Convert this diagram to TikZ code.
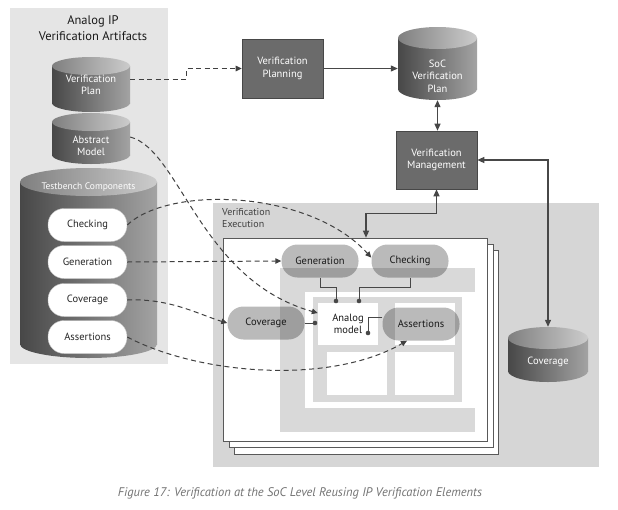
\documentclass[tikz,border=0pt]{standalone}
\usepackage{fontspec}
\setmainfont{PT Sans}
\usetikzlibrary{arrows.meta,calc}
\newcommand\mycyl[5]{%
  \shade[left color=black!72, right color=black!36] (#1-#4,#2+#5) rectangle (#1+#4,#3-#5);
  \shade[left color=black!72, right color=black!36] (#1,#3-#5) ellipse [x radius=#4, y radius=#5];
  \shade[left color=black!50, right color=black!20] (#1,#2+#5) ellipse [x radius=#4, y radius=#5];
}
\begin{document}
\begin{tikzpicture}[x=1pt,y=-1pt,
  every node/.style={font=\fontsize{10.5}{12.5}\selectfont, align=center, inner sep=0pt},
  darkbox/.style={draw=black!72, fill=black!58, text=white, line width=0.6pt},
  cyltext/.style={text=white},
  wpill/.style={draw=black!25, fill=white, rounded corners=16pt, minimum width=79pt, minimum height=33pt, text=black!85},
  gpill/.style={fill=black, fill opacity=0.27, text opacity=1, rounded corners=16pt, minimum width=77pt, minimum height=33pt, text=black!90},
  pagebox/.style={draw=black!65, fill=white, line width=0.6pt},
  band/.style={fill=black!15},
  cell/.style={fill=white},
  dashconn/.style={draw=black!75, line width=1pt, dash pattern=on 5pt off 3.5pt, -{Triangle[length=6pt,width=5.5pt]}},
  solidconn/.style={draw=black!72, line width=1.2pt},
  dbl/.style={{Triangle[length=7pt,width=6pt]}-{Triangle[length=7pt,width=6pt]}},
  sgl/.style={-{Triangle[length=7pt,width=6pt]}},
  thinconn/.style={draw=black!72, line width=0.8pt},
  dot/.style={fill=black!72}
]
\useasboundingbox (0,0) rectangle (618,509);
\fill[white] (0,0) rectangle (618,509);
% panels
\fill[black!10] (10,8) rectangle (168,364);
\fill[black!16] (213,203) rectangle (599,467);
% left title
\node[font=\fontsize{12.5}{15.5}\selectfont, text=black!90] (title) at (93,28) {Analog IP\\Verification Artifacts};
% left cylinders
\mycyl{91}{57}{112}{39}{9}
\node[cyltext, minimum width=78pt, minimum height=55pt] (vplan) at (91,85) {Verification\\Plan};
\mycyl{91}{113}{164}{39}{9}
\node[cyltext, minimum width=78pt, minimum height=38pt] (amodel) at (91,146) {Abstract\\Model};
\mycyl{88.5}{168}{358}{68.5}{14}
\node[minimum width=137pt, minimum height=190pt] (tb) at (88.5,263) {};
\node[cyltext, font=\fontsize{9.5}{12}\selectfont] (tblabel) at (88.5,187) {Testbench Components};
\node[wpill] (wchk) at (87.5,225) {Checking};
\node[wpill] (wgen) at (87.5,262) {Generation};
\node[wpill] (wcov) at (87.5,300) {Coverage};
\node[wpill] (wasr) at (87.5,337) {Assertions};
% top boxes
\node[darkbox, minimum width=81pt, minimum height=59pt] (vplanning) at (282.5,68.5) {Verification\\Planning};
\mycyl{437.5}{27}{100}{39.5}{11}
\node[cyltext, minimum width=79pt, minimum height=48pt] (soc) at (437.5,76) {SoC\\Verification\\Plan};
\node[darkbox, minimum width=81pt, minimum height=58pt] (vmgmt) at (436.5,160) {Verification\\Management};
% coverage cylinder
\mycyl{548}{327}{382}{40}{11}
\node[cyltext, minimum width=80pt, minimum height=70pt] (cvg) at (548,362) {Coverage};
% execution
\node[anchor=north west, align=left, text=black!75, font=\fontsize{10}{12.5}\selectfont] (vexec) at (222,208) {Verification\\Execution};
\node[pagebox, minimum width=264pt, minimum height=204pt] (page3) at (366,352) {};
\node[pagebox, minimum width=264pt, minimum height=203pt] (page2) at (361,345.5) {};
\node[pagebox, minimum width=264pt, minimum height=203pt] (page1) at (355,339.5) {};
\fill[band] (280,268) rectangle (475,292);
\fill[band] (280,268) rectangle (305,432);
\fill[band] (280,408) rectangle (475,432);
\fill[band] (313,297) rectangle (462,402);
\node[cell, minimum width=60pt, minimum height=42pt, text=black!90] (acell) at (348,324) {Analog\\model};
\fill[cell] (395,303) rectangle (455,345);
\fill[cell] (327,352) rectangle (387,395);
\fill[cell] (395,352) rectangle (454,395);
\node[gpill] (gen) at (320,261) {Generation};
\node[gpill] (chk) at (410,261) {Checking};
\node[gpill] (cov) at (266,323) {Coverage};
\node[gpill] (asr) at (421,324) {Assertions};
% dots
\coordinate (d1) at (336,301);
\coordinate (d2) at (359,301);
\coordinate (d3) at (315,323);
\coordinate (d4) at (368,333);
\draw[thinconn] (gen.south) -- ++(0,10) -| (d1);
\draw[thinconn] (chk.south) -- ++(0,10) -| (d2);
\draw[thinconn] (cov.east) -- (d3);
\draw[thinconn] (asr.170) -| (d4);
\foreach \d in {d1,d2,d3,d4} \fill[dot] (\d) circle (2.3pt);
% solid arrows
\draw[solidconn, sgl] (vplanning.east) -- (vplanning.east -| soc.west);
\draw[solidconn, dbl] (soc.south) -- (soc.south |- vmgmt.north);
\draw[solidconn, dbl] (vmgmt.east) -| (cvg.north);
\coordinate (pgtop) at ($(page1.north)+(11,0)$);
\draw[solidconn, dbl] (vmgmt.south) -- ++(0,24) -| (pgtop);
% dashed connectors
\draw[dashconn] ($(vplan.east)+(0,-6)$) -- ++(56,0) |- (vplanning.west);
\draw[dashconn] ($(amodel.east)+(0,-9)$) .. controls (180,150) and (200,280) .. (acell.160);
\draw[dashconn] (wchk.east) .. controls (170,185) and (310,190) .. (chk.175);
\draw[dashconn] (wgen.east) -- (gen.west);
\draw[dashconn] (wcov.east) .. controls (170,298) and (200,315) .. (cov.west);
\draw[dashconn] (wasr.east) .. controls (200,375) and (330,385) .. (asr.230);
% caption
\node[font=\itshape\fontsize{12.5}{15}\selectfont, text=black!55] (cap) at (300,493) {Figure 17: Verification at the SoC Level Reusing IP Verification Elements};
\end{tikzpicture}
\end{document}
